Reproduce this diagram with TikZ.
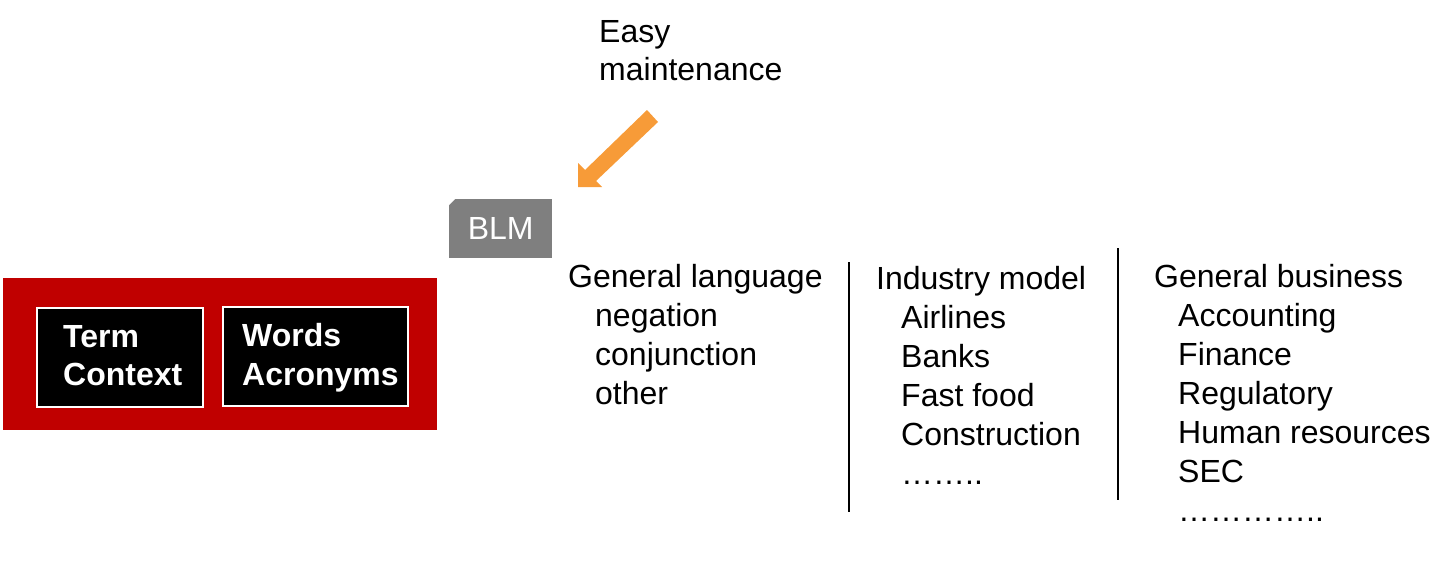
\documentclass[tikz,border=0pt]{standalone}
\usepackage{fontspec}
\setmainfont{Liberation Sans}
\definecolor{framered}{HTML}{C00000}
\definecolor{blmgray}{HTML}{7F7F7F}
\definecolor{arroworange}{HTML}{F79B38}
\begin{document}
\begin{tikzpicture}[x=1pt,y=-1pt]
\tikzstyle{every node}=[inner sep=0pt,anchor=base west,font=\fontsize{32}{39}\selectfont]
\tikzstyle{box}=[anchor=north west,fill=black,draw=white,line width=2pt]
\tikzstyle{boxtext}=[text=white,font=\fontsize{32}{38}\selectfont\bfseries]
\useasboundingbox (0,0) rectangle (1456,582);
% red frame with the two black boxes
\node[anchor=north west,fill=framered,minimum width=434pt,minimum height=152pt](frame) at (3,278) {};
\node[box,minimum width=166pt,minimum height=99pt](term) at (36,307) {};
\node[box,minimum width=185pt,minimum height=99pt](words) at (222,306) {};
\node[boxtext](t1) at (63,347) {Term};
\node[boxtext](t2) at (63,385) {Context};
\node[boxtext](w1) at (242,346) {Words};
\node[boxtext](w2) at (242,385) {Acronyms};
% BLM and the arrow
\node[anchor=north west,fill=blmgray,text=white,minimum width=103pt,minimum height=59pt](blm) at (449,199) {BLM};
\fill[white] (blm.north west) -- +(6,0) -- +(0,6) -- cycle;
\node(e1) at (599,42) {Easy};
\node(e2) at (599,80) {maintenance};
\fill[arroworange] (647,110) -- (658,122) -- (596,181) -- (602,187) -- (578,187) -- (578,163) -- (585,170) -- cycle;
% three columns
\node(gl) at (568,287) {General language};
\node(gl1) at (595,326) {negation};
\node(gl2) at (595,365) {conjunction};
\node(gl3) at (595,404) {other};
\node(im) at (876,289) {Industry model};
\node(im1) at (901,328) {Airlines};
\node(im2) at (901,367) {Banks};
\node(im3) at (901,406) {Fast food};
\node(im4) at (901,445) {Construction};
\node(im5) at (901,484) {……..};
\node(gb) at (1154,287) {General business};
\node(gb1) at (1178,326) {Accounting};
\node(gb2) at (1178,365) {Finance};
\node(gb3) at (1178,404) {Regulatory};
\node(gb4) at (1178,443) {Human resources};
\node(gb5) at (1178,482) {SEC};
\node(gb6) at (1178,521) {…………..};
\draw[line width=2.5pt] (849,262) -- (849,512);
\draw[line width=2.5pt] (1118,248) -- (1118,500);
\end{tikzpicture}
\end{document}
